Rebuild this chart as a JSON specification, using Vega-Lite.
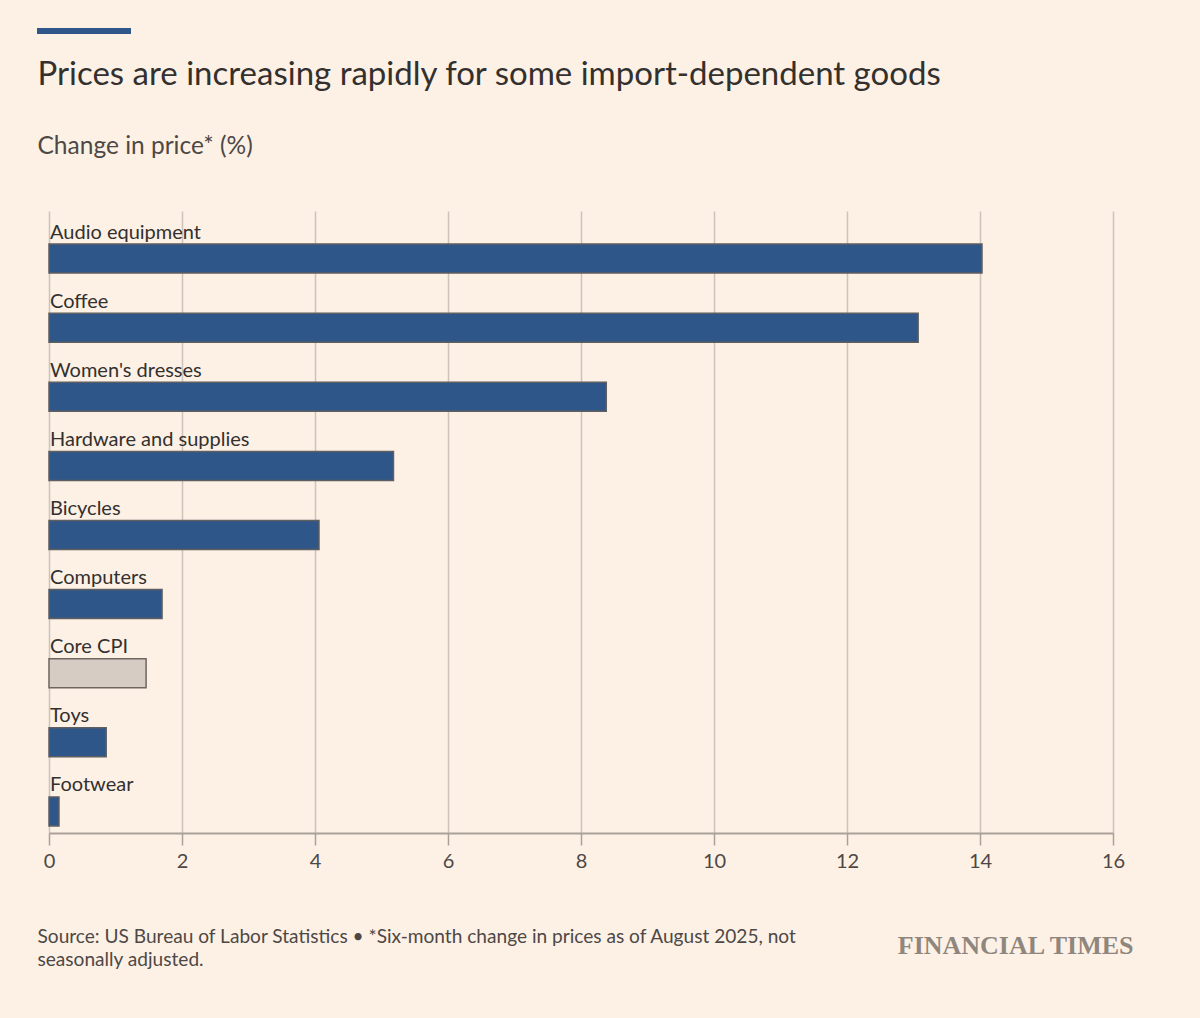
{
  "$schema": "https://vega.github.io/schema/vega-lite/v6.json",
  "autosize": "none",
  "width": 1064,
  "height": 622,
  "padding": {"left": 49, "top": 211, "right": 87, "bottom": 185},
  "background": "#fdf1e6",
  "config": {
    "view": {"stroke": null},
    "font": "Lato"
  },
  "data": {
    "values": [
      {"item": "Audio equipment", "change": 14.03, "type": "Goods"},
      {"item": "Coffee", "change": 13.07, "type": "Goods"},
      {"item": "Women's dresses", "change": 8.38, "type": "Goods"},
      {"item": "Hardware and supplies", "change": 5.18, "type": "Goods"},
      {"item": "Bicycles", "change": 4.06, "type": "Goods"},
      {"item": "Computers", "change": 1.70, "type": "Goods"},
      {"item": "Core CPI", "change": 1.46, "type": "Core CPI"},
      {"item": "Toys", "change": 0.86, "type": "Goods"},
      {"item": "Footwear", "change": 0.15, "type": "Goods"}
    ]
  },
  "resolve": {"axis": {"x": "independent", "y": "independent"}},
  "layer": [
    {
      "mark": {"type": "bar", "height": 29, "yOffset": 13, "strokeWidth": 1.5},
      "encoding": {
        "y": {
          "field": "item",
          "type": "nominal",
          "sort": null,
          "scale": {"paddingInner": 0, "paddingOuter": 0},
          "axis": {
            "orient": "left",
            "labels": false,
            "ticks": false,
            "domain": false,
            "grid": false,
            "title": "Change in price* (%)",
            "titleAngle": 0,
            "titleAlign": "left",
            "titleBaseline": "alphabetic",
            "titleX": -12,
            "titleY": -58,
            "titleFont": "Lato",
            "titleFontSize": 24.5,
            "titleFontWeight": "normal",
            "titleColor": "#4d4845"
          }
        },
        "x": {
          "field": "change",
          "type": "quantitative",
          "scale": {"domain": [0, 16], "nice": false},
          "axis": {
            "orient": "bottom",
            "values": [0, 2, 4, 6, 8, 10, 12, 14, 16],
            "format": "d",
            "labelFlush": false,
            "grid": true,
            "gridColor": "#ccc3bb",
            "gridWidth": 1.5,
            "domainColor": "#a9a19a",
            "domainWidth": 2,
            "tickColor": "#a9a19a",
            "tickWidth": 1.5,
            "tickSize": 12,
            "labelFont": "Lato",
            "labelFontSize": 20,
            "labelColor": "#4d4845",
            "labelPadding": 6,
            "title": ["Source: US Bureau of Labor Statistics • *Six-month change in prices as of August 2025, not", "seasonally adjusted."],
            "titleAnchor": "start",
            "titleAlign": "left",
            "titleBaseline": "alphabetic",
            "titleX": -12,
            "titleY": 109,
            "titleLineHeight": 23,
            "titleFont": "Lato",
            "titleFontSize": 19.1,
            "titleFontWeight": "normal",
            "titleColor": "#4d4845"
          }
        },
        "color": {
          "field": "type",
          "type": "nominal",
          "scale": {"domain": ["Goods", "Core CPI"], "range": ["#2e5689", "#d6ccc4"]},
          "legend": {
            "orient": "none",
            "legendX": -12,
            "legendY": -183,
            "values": ["Goods"],
            "title": null,
            "padding": 0,
            "symbolType": "M-1,-1H1V-0.872H-1Z",
            "symbolSize": 8836,
            "symbolStrokeWidth": 0,
            "labelExpr": "''"
          }
        },
        "stroke": {
          "field": "type",
          "type": "nominal",
          "scale": {"domain": ["Goods", "Core CPI"], "range": ["#5f5e60", "#6f6660"]},
          "legend": null
        }
      }
    },
    {
      "mark": {"type": "text", "align": "left", "baseline": "alphabetic", "dx": 1, "dy": -7, "fontSize": 20, "color": "#33302e", "font": "Lato"},
      "encoding": {
        "y": {
          "field": "item",
          "type": "nominal",
          "sort": null,
          "axis": {
            "orient": "right",
            "labels": false,
            "ticks": false,
            "domain": false,
            "grid": false,
            "title": "FINANCIAL TIMES",
            "titleAngle": 0,
            "titleAlign": "right",
            "titleBaseline": "alphabetic",
            "titleX": 20,
            "titleY": 742,
            "titleFont": "Liberation Serif",
            "titleFontSize": 26,
            "titleFontWeight": "bold",
            "titleColor": "#8f867e"
          }
        },
        "x": {
          "datum": 0,
          "type": "quantitative",
          "axis": {
            "orient": "top",
            "labels": false,
            "ticks": false,
            "domain": false,
            "grid": false,
            "title": "Prices are increasing rapidly for some import-dependent goods",
            "titleAnchor": "start",
            "titleAlign": "left",
            "titleBaseline": "alphabetic",
            "titleX": -12,
            "titleY": -127,
            "titleFont": "Lato",
            "titleFontSize": 33,
            "titleFontWeight": "normal",
            "titleColor": "#33302e"
          }
        },
        "text": {"field": "item"}
      }
    }
  ]
}
